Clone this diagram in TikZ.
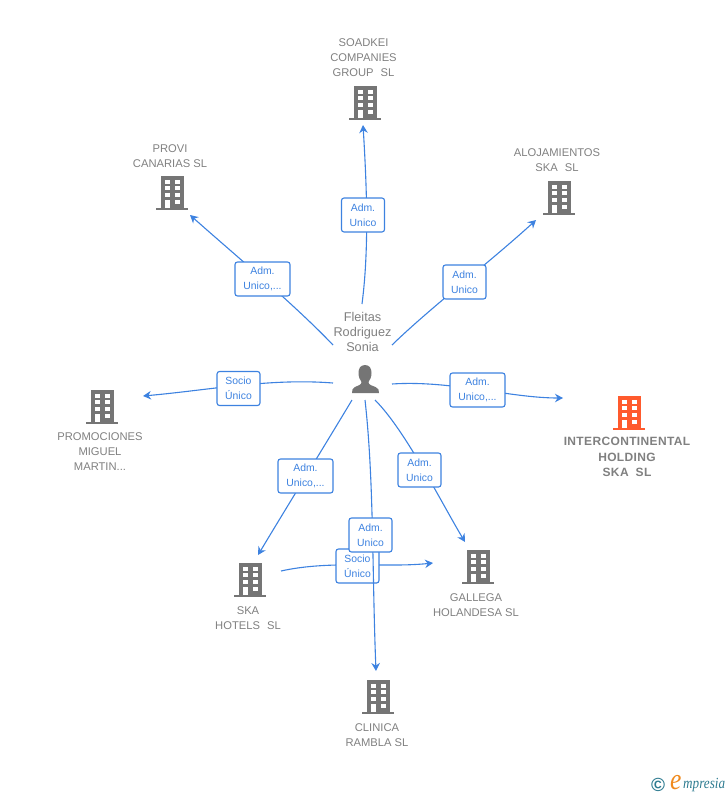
\documentclass[tikz,border=0pt]{standalone}
\usepackage{fontspec}
\setmainfont{Liberation Sans}
\newfontfamily\logofont{Liberation Serif}
\usetikzlibrary{arrows.meta}
\definecolor{txtgray}{HTML}{808080}
\definecolor{icongray}{HTML}{757575}
\definecolor{linkblue}{HTML}{3D82E0}
\definecolor{hotorange}{HTML}{FF5A2D}
\definecolor{logoteal}{HTML}{2F7C91}
\definecolor{logoorange}{HTML}{F08A1D}
\newcommand{\wsp}{\hspace{7pt}}
\tikzset{
  x=1pt,y=-1pt,
  conn/.style={draw=linkblue,line width=1.1pt,-{Stealth[length=8pt,width=8.5pt]}},
  tag/.style={draw=linkblue,line width=1.1pt,fill=white,rounded corners=2.5pt,text=linkblue,inner sep=0pt,
     font=\fontsize{10.4}{15}\selectfont,align=center,minimum height=34pt,
     execute at begin node={\rule{0pt}{10pt}}},
  tagS/.style={tag,minimum width=43pt},
  tagL/.style={tag,minimum width=55pt},
  entname/.style={text=txtgray,font=\fontsize{11.2}{15}\selectfont,align=center,inner sep=0pt},
  hotname/.style={text=txtgray,font=\fontsize{12}{15.5}\selectfont\bfseries\addfontfeatures{LetterSpace=3},align=center,inner sep=0pt},
  pics/bld/.style={code={
    \fill[#1] (-11,-17) rectangle (12,15);
    \fill[#1] (-16,15) rectangle (16,17);
    \foreach \yy/\hh in {-13/4,-7/4,0/4}{
      \fill[white] (-7,\yy) rectangle (-2,\yy+\hh);
      \fill[white] (2.5,\yy) rectangle (8,\yy+\hh);
    }
    \fill[white] (-7,7) rectangle (-2,15);
    \fill[white] (2.5,7) rectangle (8,11);
  }}
}
\begin{document}
\begin{tikzpicture}
\useasboundingbox (0,0) rectangle (728,795);
% buildings
\pic at (365,103) {bld=icongray};
\pic at (172,193) {bld=icongray};
\pic at (559,198) {bld=icongray};
\pic at (102,407) {bld=icongray};
\pic at (629,413) {bld=hotorange};
\pic at (250,580) {bld=icongray};
\pic at (478,567) {bld=icongray};
\pic at (378,697) {bld=icongray};
% person
\fill[icongray] (365,365) .. controls (360,365) and (358.5,369) .. (358.5,373)
  .. controls (358.5,377) and (360,380) .. (361.5,382) .. controls (361.5,385) and (358,385.5) .. (355,387)
  .. controls (352.5,388) and (352,390) .. (352,393) -- (379,393) .. controls (379,390) and (378.5,388) .. (375.5,387)
  .. controls (372,385.5) and (368.5,385) .. (368.5,382) .. controls (370,380) and (371.5,377) .. (371.5,373)
  .. controls (371.5,369) and (370,365) .. (365,365) -- cycle;
% labels of entities
\node[entname] (nsoad) at (363.5,57.5) {SOADKEI\\COMPANIES\\GROUP\wsp SL};
\node[entname] (nprovi) at (170,156) {PROVI\\CANARIAS SL};
\node[entname] (naloj) at (557,160) {ALOJAMIENTOS\\SKA\wsp SL};
\node[entname,font=\fontsize{12.7}{15}\selectfont] (nperson) at (362.5,332) {Fleitas\\Rodriguez\\Sonia};
\node[entname] (npromo) at (100,452) {PROMOCIONES\\MIGUEL\\MARTIN...};
\node[hotname] (ninter) at (627,457) {INTERCONTINENTAL\\HOLDING\\SKA\wsp SL};
\node[entname] (nska) at (248,618) {SKA\\HOTELS\wsp SL};
\node[entname] (ngal) at (476,605) {GALLEGA\\HOLANDESA SL};
\node[entname] (nclin) at (377,735) {CLINICA\\RAMBLA SL};
% connector ends
\coordinate (a1) at (362,304); \coordinate (b1) at (363,125);
\coordinate (a2) at (333,345); \coordinate (b2) at (190,215);
\coordinate (a3) at (392,345); \coordinate (b3) at (536,220);
\coordinate (a4) at (333,383); \coordinate (b4) at (143,396);
\coordinate (a5) at (392,384); \coordinate (b5) at (563,398);
\coordinate (a6) at (352,400); \coordinate (b6) at (258,555);
\coordinate (a7) at (375,400); \coordinate (b7) at (465,542);
\coordinate (a8) at (365,400); \coordinate (b8) at (376,671);
\coordinate (a9) at (281,571); \coordinate (b9) at (433,563);
% connectors and tags
\draw[conn] (a1) .. controls (369,250) and (367,190) .. (b1);
\node[tagS] (t1) at (363,215) {Adm.\\Unico};
\draw[conn] (a2) .. controls (295,305) and (235,255) .. (b2);
\node[tagL] (t2) at (262.5,279) {Adm.\\Unico,...};
\draw[conn] (a3) .. controls (430,308) and (490,262) .. (b3);
\node[tagS] (t3) at (464.5,282) {Adm.\\Unico};
\draw[conn] (a4) .. controls (270,378) and (210,390) .. (b4);
\node[tagS] (t4) at (238.5,388.5) {Socio\\Único};
\draw[conn] (a5) .. controls (450,380) and (510,398) .. (b5);
\node[tagL] (t5) at (477.5,390) {Adm.\\Unico,...};
\draw[conn] (a6) .. controls (325,445) and (285,510) .. (b6);
\node[tagL] (t6) at (305.5,476) {Adm.\\Unico,...};
\draw[conn] (a7) .. controls (405,430) and (440,500) .. (b7);
\node[tagS] (t7) at (419.5,470) {Adm.\\Unico};
\draw[conn] (a9) .. controls (330,560) and (385,568) .. (b9);
\node[tagS] (t9) at (357.5,566) {Socio\\Único};
\draw[conn] (a8) .. controls (374,480) and (372,570) .. (b8);
\node[tagS] (t8) at (370.5,535) {Adm.\\Unico};
% logo
\node[inner sep=0pt,text=logoteal,font=\fontsize{19}{19}\selectfont\bfseries] (lc) at (658,785) {©};
\node[inner sep=0pt,anchor=base west,text=logoorange,xscale=.85,transform shape,font=\logofont\fontsize{30}{30}\selectfont\itshape] (le) at (670,789) {e};
\node[inner sep=0pt,anchor=base west,text=logoteal,xscale=.85,transform shape,font=\logofont\fontsize{15.5}{16}\selectfont\itshape] (lm) at (683,788) {mpresia};
\end{tikzpicture}
\end{document}
